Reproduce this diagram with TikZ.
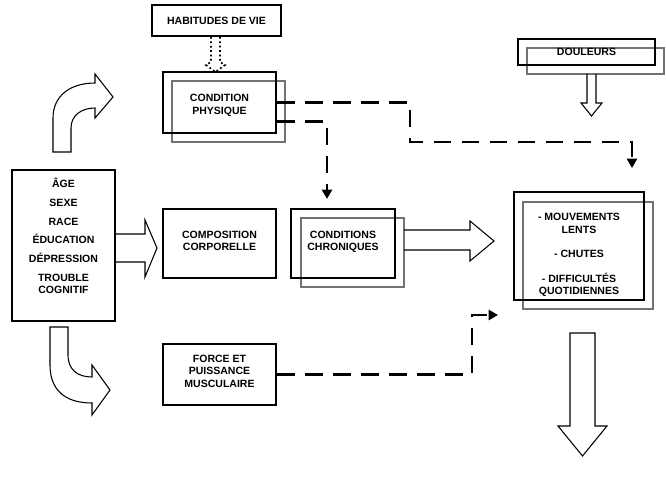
\documentclass[tikz,border=0pt]{standalone}
\usepackage{fontspec}
\setmainfont{Liberation Sans}
\usetikzlibrary{arrows.meta}

\tikzset{
  boite/.style={draw, line width=2.2pt, inner sep=0pt, align=center,
    font=\bfseries\fontsize{7.9}{9.4}\selectfont},
  ombre/.style={draw=black!55, line width=1.6pt, inner sep=0pt},
  tiret/.style={line width=2.2pt, dash pattern=on 13pt off 8pt,
    -{Triangle[width=7.5pt,length=7pt]}},
  fleche/.style={line width=0.8pt, line join=miter}
}

\begin{document}
\begin{tikzpicture}[x=0.75pt,y=-0.75pt]
    \useasboundingbox (0,0) rectangle (666,477);

    % cadres gris (en retrait)
    \node[ombre, minimum width=84.75pt, minimum height=45.75pt] (2b) at (228.5,111.5) {};
    \node[ombre, minimum width=77.25pt, minimum height=51.75pt] (4b) at (352.5,252.5) {};
    \node[ombre, minimum width=97.5pt, minimum height=80.25pt] (5b) at (588,255.5) {};
    \node[ombre, minimum width=102.75pt, minimum height=19.5pt] (6b) at (595.5,61) {};

    % cadres
    \node[boite, minimum width=96.75pt, minimum height=23.25pt] (0) at (216.5,20.5) {HABITUDES DE VIE};
    \node[boite, minimum width=77.25pt, minimum height=113.25pt] (1) at (63.5,245.5)
      {ÂGE\\[4.6pt] SEXE\\[4.6pt] RACE\\[4.6pt] ÉDUCATION\\[4.6pt] DÉPRESSION\\[4.6pt] TROUBLE\\ COGNITIF\\[4.8pt]\mbox{}};
    \node[boite, minimum width=84.75pt, minimum height=45.75pt] (2) at (219.5,102.5) {\mbox{}\\[0.8pt] CONDITION\\ PHYSIQUE};
    \node[boite, minimum width=84.75pt, minimum height=51.75pt] (3) at (219.5,243.5) {COMPOSITION\\ CORPORELLE\\[-5.6pt]\mbox{}};
    \node[boite, minimum width=78pt, minimum height=51.75pt] (4) at (343,243.5) {CONDITIONS\\ CHRONIQUES\\[-5.6pt]\mbox{}};
    \node[boite, minimum width=97.5pt, minimum height=81pt] (5) at (579,246)
      {\mbox{}\\[9.8pt] - MOUVEMENTS\\ LENTS\\[9pt] - CHUTES\\[9pt] - DIFFICULTÉS\\ QUOTIDIENNES};
    \node[boite, minimum width=102.75pt, minimum height=19.5pt] (6) at (586.5,52) {DOULEURS};
    \node[boite, minimum width=84.75pt, minimum height=45.75pt] (7) at (219.5,374.5) {FORCE ET\\ PUISSANCE\\ MUSCULAIRE\\[-4.1pt]\mbox{}};

    % fleche pointillee
    \draw[line width=1.3pt, dotted] (211,37) -- (211,62) -- (206,65) -- (215.5,72) -- (225,65) -- (220,62) -- (220,37);

    % fleches creuses
    \draw[fleche] (53,152) -- (53,118) .. controls (53,96) and (70,83) .. (95,83) -- (95,74) -- (113,97)
      -- (95,118) -- (95,108) .. controls (82,108) and (71,115) .. (71,128) -- (71,152) -- cycle;
    \draw[fleche] (50,327) -- (68,327) -- (68,355) .. controls (68,370) and (78,377) .. (92,377) -- (92,365)
      -- (110,390) -- (92,415) -- (92,403) .. controls (65,403) and (50,390) .. (50,365) -- cycle;
    \draw[fleche] (115,234) -- (145,234) -- (145,220) -- (157,248) -- (145,277) -- (145,262) -- (115,262);
    \draw[fleche] (404,230) -- (470,230) -- (470,221) -- (494,241) -- (470,261) -- (470,250) -- (404,250);
    \draw[fleche] (587,74) -- (587,103) -- (581,103) -- (591.5,116) -- (602,103) -- (596,103) -- (596,74);
    \draw[fleche] (570,333) -- (595,333) -- (595,426) -- (607,426) -- (582.5,456) -- (558,426) -- (570,426) -- cycle;

    % liens en tirets
    \coordinate (a) at (632,168);
    \coordinate (b) at (327,199);
    \coordinate (c) at (498,315);
    \draw[tiret] (2.east) -| (410,142) -| (a);
    \draw[tiret] ([yshift=-14.25pt]2.east) -| (b);
    \draw[tiret] (7.east) -| (472,315) -- (c);
  \end{tikzpicture}
\end{document}
